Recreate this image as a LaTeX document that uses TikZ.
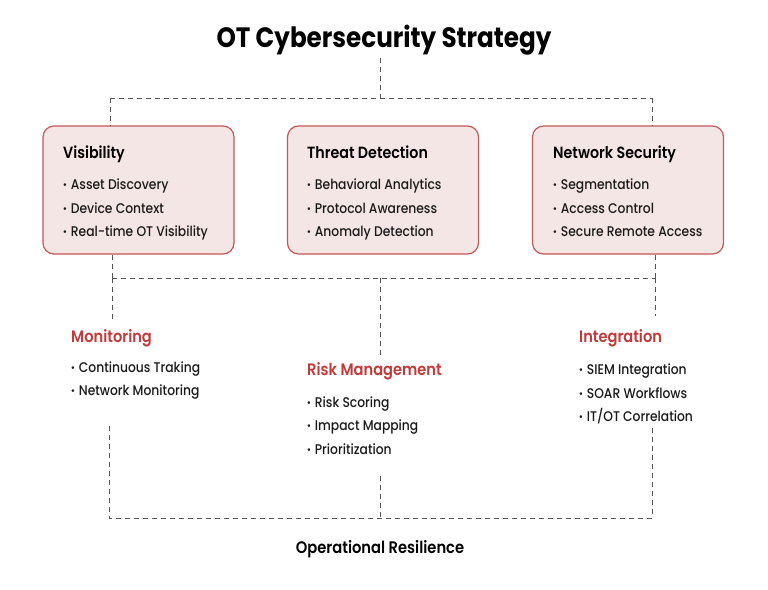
\documentclass[tikz,border=0pt]{standalone}
\usepackage{fontspec}
\setmainfont{Poppins}[FakeStretch=0.88]
\newfontfamily\itemfont{Poppins}[UprightFont={* Medium}, FakeStretch=0.88]
\newfontfamily\semifont{Poppins}[UprightFont={* SemiBold}, FakeStretch=0.88]
\definecolor{boxfill}{HTML}{F5E6E6}
\definecolor{boxline}{HTML}{C4585A}
\definecolor{headred}{HTML}{C23B3B}
\definecolor{dashgray}{HTML}{555555}
\tikzset{
  conn/.style={draw=dashgray, line width=1pt, dash pattern=on 5pt off 4pt},
  card/.style={draw=boxline, fill=boxfill, line width=1.2pt, rounded corners=11pt, minimum width=191pt, minimum height=128pt, inner sep=0pt},
  ttl/.style={anchor=base, inner sep=0pt, font=\fontsize{28}{30}\selectfont\bfseries},
  cardttl/.style={anchor=base west, inner sep=0pt, font=\semifont\fontsize{16.2}{18}\selectfont},
  redttl/.style={anchor=base west, inner sep=0pt, text=headred, font=\semifont\fontsize{16.6}{18}\selectfont},
  item/.style={anchor=base west, inner sep=0pt, text=black!90, font=\itemfont\fontsize{14}{16}\selectfont},
  foot/.style={anchor=base, inner sep=0pt, font=\semifont\fontsize{16.7}{18}\selectfont},
}
\newcommand{\bul}{{\normalfont\bfseries\textperiodcentered}\hspace{4pt}}
\begin{document}
\begin{tikzpicture}[x=1pt,y=-1pt]
\useasboundingbox[fill=white] (0,0) rectangle (768,589);
% title
\node[ttl] (title) at (384,47) {OT Cybersecurity Strategy};
% cards
\node[card] (vis) at (138.5,190) {};
\node[card] (thr) at (383,190) {};
\node[card] (net) at (628,190) {};
% card texts
\node[cardttl] (visT) at (63,158) {Visibility};
\node[item] (vis1) at (63,189) {\bul Asset Discovery};
\node[item] (vis2) at (63,213) {\bul Device Context};
\node[item] (vis3) at (63,236) {\bul Real-time OT Visibility};
\node[cardttl] (thrT) at (307,158) {Threat Detection};
\node[item] (thr1) at (307,189) {\bul Behavioral Analytics};
\node[item] (thr2) at (307,213) {\bul Protocol Awareness};
\node[item] (thr3) at (307,236) {\bul Anomaly Detection};
\node[cardttl] (netT) at (553,158) {Network Security};
\node[item] (net1) at (553,189) {\bul Segmentation};
\node[item] (net2) at (553,213) {\bul Access Control};
\node[item] (net3) at (553,236) {\bul Secure Remote Access};
% lower groups
\node[redttl] (mon) at (71,342) {Monitoring};
\node[item] (mon1) at (71,372) {\bul Continuous Traking};
\node[item] (mon2) at (71,395) {\bul Network Monitoring};
\node[redttl] (risk) at (307,375) {Risk Management};
\node[item] (risk1) at (307,407) {\bul Risk Scoring};
\node[item] (risk2) at (307,430) {\bul Impact Mapping};
\node[item] (risk3) at (307,454) {\bul Prioritization};
\node[redttl] (integ) at (579,342) {Integration};
\node[item] (int1) at (579,374) {\bul SIEM Integration};
\node[item] (int2) at (579,398) {\bul SOAR Workflows};
\node[item] (int3) at (579,421) {\bul IT/OT Correlation};
\node[foot] (res) at (380,553) {Operational Resilience};
% junction coordinates
\coordinate (t0) at (380,58);
\coordinate (tj) at (380,98);
\coordinate (tl) at (110,98);
\coordinate (tr) at (652,98);
\coordinate (ml) at (112,278);
\coordinate (mc) at (380,278);
\coordinate (mr) at (655,278);
\coordinate (monTop) at (112,319);
\coordinate (riskTop) at (380,357);
\coordinate (intTop) at (655,316);
\coordinate (monBot) at (109,426);
\coordinate (riskBot) at (380,476);
\coordinate (intBot) at (652,428);
\coordinate (bl) at (109,518);
\coordinate (bc) at (380,518);
\coordinate (br) at (652,518);
% connectors
\draw[conn] (t0) -- (tj);
\draw[conn] (tl) -- (tr);
\draw[conn] (tl) -- (tl |- vis.north);
\draw[conn] (tr) -- (tr |- net.north);
\draw[conn] (ml |- vis.south) -- (ml);
\draw[conn] (mr |- net.south) -- (mr);
\draw[conn] (ml) -- (mr);
\draw[conn] (ml) -- (monTop);
\draw[conn] (mc) -- (riskTop);
\draw[conn] (mr) -- (intTop);
\draw[conn] (monBot) -- (bl) -- (br) -- (intBot);
\draw[conn] (riskBot) -- (bc);
\end{tikzpicture}
\end{document}
